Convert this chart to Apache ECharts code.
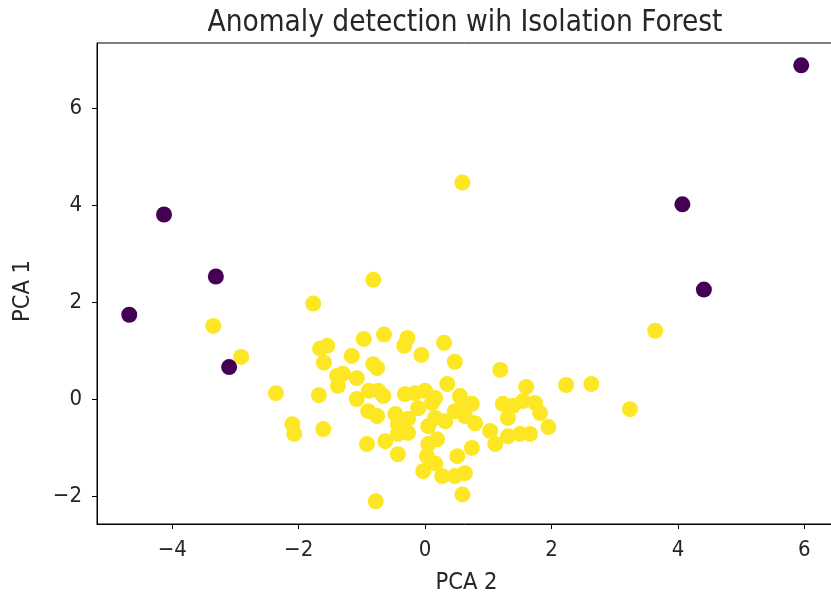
<!DOCTYPE html>
<html>
<head>
<meta charset="utf-8">
<title>Anomaly detection wih Isolation Forest</title>
<script src="https://cdn.jsdelivr.net/npm/echarts@6/dist/echarts.min.js"></script>
<style>
  html, body { margin: 0; padding: 0; background: #ffffff; }
  #chart { width: 831px; height: 595px; }
</style>
</head>
<body>
<div id="chart"></div>
<script>
// Points flagged as anomalies (label -1), as [PCA 2, PCA 1]
const anomalyPoints = [
  [5.95, 6.89], [-4.13, 3.81], [-3.31, 2.53], [-4.68, 1.74],
  [-3.10, 0.66], [4.07, 4.02], [4.41, 2.26]
];

// Inlier points (label 1), as [PCA 2, PCA 1]
const normalPoints = [
  [0.59, 4.47], [3.64, 1.41], [-3.35, 1.51], [-2.91, 0.87], [3.24, -0.21],
  [2.63, 0.31], [2.23, 0.29], [-1.77, 1.97], [-0.82, 2.46], [-0.78, -2.11],
  [-2.36, 0.12], [-1.66, 1.04], [-1.55, 1.10], [-1.60, 0.75], [-1.68, 0.08],
  [-2.10, -0.52], [-2.07, -0.72], [-1.61, -0.62], [-1.39, 0.48], [-1.30, 0.52],
  [-1.38, 0.27], [-1.16, 0.89], [-0.97, 1.24], [-0.82, 0.72], [-0.76, 0.64],
  [-1.08, 0.43], [-1.08, 0.00], [-0.89, 0.17], [-0.74, 0.17], [-0.66, 0.06],
  [-0.65, 1.33], [-0.28, 1.26], [-0.33, 1.10], [-0.06, 0.91], [0.30, 1.16],
  [0.47, 0.77], [0.35, 0.31], [1.19, 0.60], [1.60, 0.25], [-0.92, -0.93],
  [-0.90, -0.25], [-0.76, -0.35], [-0.63, -0.87], [-0.47, -0.31], [-0.43, -1.14],
  [-0.32, 0.10], [-0.16, 0.12], [0.00, 0.17], [0.16, 0.02], [-0.43, -0.52],
  [-0.27, -0.41], [-0.11, -0.19], [0.11, -0.08], [0.16, -0.39], [0.32, -0.46],
  [0.47, -0.25], [0.63, -0.35], [0.60, -0.08], [0.55, 0.06], [0.74, -0.10],
  [0.79, -0.50], [-0.43, -0.72], [-0.27, -0.70], [0.05, -0.93], [0.19, -0.83],
  [0.03, -1.18], [-0.03, -1.49], [0.16, -1.33], [0.27, -1.59], [0.47, -1.59],
  [0.51, -1.18], [0.63, -1.53], [0.74, -1.01], [0.59, -1.97], [1.23, -0.10],
  [1.39, -0.14], [1.55, -0.04], [1.74, -0.08], [1.82, -0.29], [1.31, -0.39],
  [1.95, -0.58], [1.03, -0.66], [1.11, -0.93], [1.31, -0.77], [1.50, -0.72],
  [1.66, -0.72], [0.05, -0.56]
];

// Tick positions on each axis
const xTicks = [-4, -2, 0, 2, 4, 6];
const yTicks = [-2, 0, 2, 4, 6];

const FONT = '"DejaVu Sans Condensed", "DejaVu Sans", sans-serif';
const INK = '#000000';
const TEXT = '#262626';

const minusSign = v => String(v).replace('-', '\u2212');

const chart = echarts.init(document.getElementById('chart'), null, { renderer: 'canvas' });

chart.setOption({
  animation: false,
  backgroundColor: '#ffffff',
  title: {
    text: 'Anomaly detection wih Isolation Forest',
    left: 460,
    textAlign: 'center',
    top: 3,
    textStyle: { fontFamily: FONT, fontSize: 29.5, fontWeight: 'normal', color: TEXT }
  },
  grid: {
    left: 97, top: 43, width: 739, height: 481,
    show: true, borderColor: INK, borderWidth: 1, backgroundColor: 'transparent',
    containLabel: false,
    outerBoundsMode: 'none'
  },
  xAxis: {
    type: 'value',
    min: -5.19, max: 6.50,
    name: 'PCA 2',
    nameLocation: 'middle',
    nameGap: 47,
    nameTextStyle: { fontFamily: FONT, fontSize: 23.5, color: TEXT },
    splitLine: { show: false },
    axisLine: { show: true, onZero: false, lineStyle: { color: INK, width: 1 } },
    axisTick: { show: true, length: 5, lineStyle: { color: INK }, customValues: xTicks },
    axisLabel: {
      fontFamily: FONT, fontSize: 22, color: TEXT, margin: 15,
      customValues: xTicks, formatter: minusSign
    }
  },
  yAxis: {
    type: 'value',
    min: -2.58, max: 7.35,
    name: 'PCA 1',
    nameLocation: 'middle',
    nameGap: 62,
    nameRotate: 90,
    nameTextStyle: { fontFamily: FONT, fontSize: 23.5, color: TEXT, padding: [0, 15, 0, 0] },
    splitLine: { show: false },
    axisLine: { show: true, onZero: false, lineStyle: { color: INK, width: 1 } },
    axisTick: { show: true, length: 5, lineStyle: { color: INK }, customValues: yTicks },
    axisLabel: {
      fontFamily: FONT, fontSize: 22, color: TEXT, margin: 15,
      customValues: yTicks, formatter: minusSign
    }
  },
  series: [
    {
      name: 'inlier',
      type: 'scatter',
      data: normalPoints,
      symbol: 'circle',
      symbolSize: 16,
      itemStyle: { color: '#fde725', opacity: 1 },
      silent: true
    },
    {
      name: 'anomaly',
      type: 'scatter',
      data: anomalyPoints,
      symbol: 'circle',
      symbolSize: 16,
      itemStyle: { color: '#440154', opacity: 1 },
      silent: true
    }
  ]
});
</script>
</body>
</html>
